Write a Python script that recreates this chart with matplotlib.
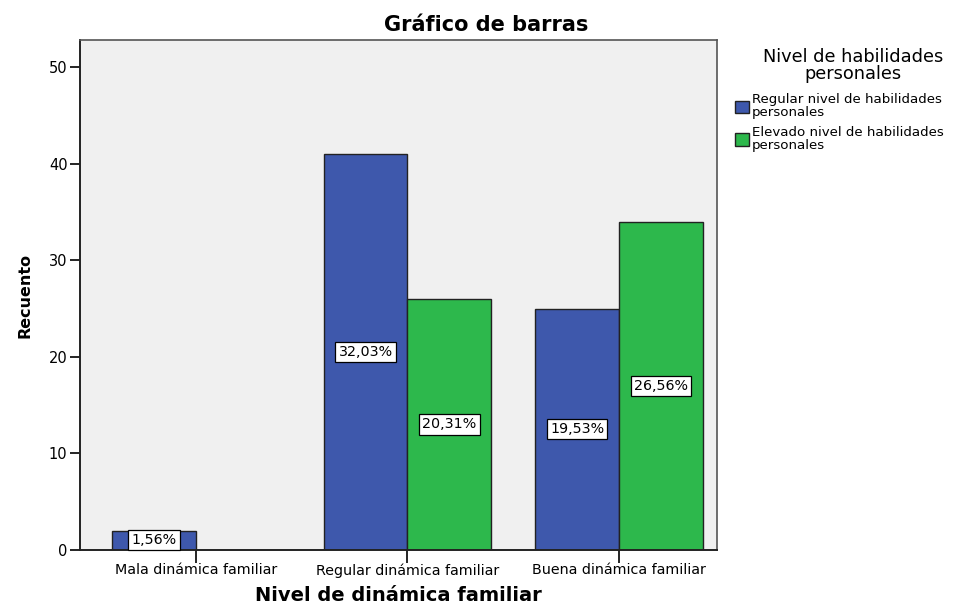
import numpy as np
import matplotlib
matplotlib.use("Agg")
import matplotlib.pyplot as plt
from matplotlib.patches import Patch

# el original tiene texto ancho (Arial estirado), DejaVu se parece mas
plt.rcParams['font.family'] = ['DejaVu Sans']

# Datos
categorias = ["Mala dinámica familiar", "Regular dinámica familiar", "Buena dinámica familiar"]
regular = [2, 41, 25]
elevado = [0, 26, 34]
pct_regular = ["1,56%", "32,03%", "19,53%"]
pct_elevado = [None, "20,31%", "26,56%"]
series_nombres = ["Regular nivel de habilidades\npersonales", "Elevado nivel de habilidades\npersonales"]

azul = "#3e58ac"
verde = "#2db84c"
borde = "#222222"

fig = plt.figure(figsize=(9.71, 6.06), dpi=100)
ax = fig.add_axes([80 / 971, 1 - 550 / 606, (717 - 80) / 971, (550 - 40) / 606])
ax.set_facecolor("#f0f0f0")

x = np.arange(len(categorias))
ancho = 0.395
ax.bar(x - ancho / 2, regular, ancho, color=azul, edgecolor=borde, linewidth=1)
# la barra verde de "Mala" vale 0 y no se dibuja
b2 = ax.bar(x + ancho / 2, elevado, ancho, color=verde, edgecolor=borde, linewidth=1)
for barra, v in zip(b2, elevado):
    if v == 0:
        barra.set_visible(False)

caja = dict(boxstyle="square,pad=0.22", facecolor="white", edgecolor="black", linewidth=0.9)
for i in range(len(categorias)):
    ax.text(x[i] - ancho / 2, regular[i] / 2, pct_regular[i], ha="center", va="center", fontsize=10.3, bbox=caja)
    if pct_elevado[i]:
        ax.text(x[i] + ancho / 2, elevado[i] / 2, pct_elevado[i], ha="center", va="center", fontsize=10.3, bbox=caja)

ax.set_xlim(-0.548, 2.463)
ax.set_ylim(0, 52.8)
ax.set_yticks([0, 10, 20, 30, 40, 50])
ax.set_xticks(x)
ax.set_xticklabels(categorias, fontsize=10.3)
ax.tick_params(axis="y", labelsize=10.5, length=7, width=1.2, direction="out", pad=2)
ax.tick_params(axis="x", length=9, width=1.2, direction="out", pad=0.5)

for lado in ["top", "right"]:
    ax.spines[lado].set_color("#555555")
    ax.spines[lado].set_linewidth(1.2)
for lado in ["left", "bottom"]:
    ax.spines[lado].set_color("#222222")
    ax.spines[lado].set_linewidth(1.4)

fig.text(486 / 971, 1 - 25 / 606, "Gráfico de barras", fontsize=15, fontweight="bold", ha="center", va="center")
ax.set_xlabel("Nivel de dinámica familiar", fontsize=14, fontweight="bold", labelpad=6)
ax.set_ylabel("Recuento", fontsize=11.5, fontweight="bold", labelpad=12)

manejadores = [Patch(facecolor=azul, edgecolor=borde, linewidth=1),
               Patch(facecolor=verde, edgecolor=borde, linewidth=1)]
leg = fig.legend(manejadores, series_nombres, loc="upper left",
                 bbox_to_anchor=(735 / 971, 1 - 48 / 606), frameon=False,
                 title="Nivel de habilidades\npersonales", title_fontsize=12.8, fontsize=9.6,
                 handlelength=1.05, handleheight=1.05, handletextpad=0.2, labelspacing=0.5,
                 borderpad=0, borderaxespad=0)
leg._legend_box.align = "right"
leg._legend_box.sep = 7.5  # mas aire entre titulo y entradas
leg.get_title().set_multialignment("center")
leg.get_title().set_linespacing(0.92)
for t in leg.get_texts():
    t.set_linespacing(1.0)

fig.savefig("out.png", dpi=100)
